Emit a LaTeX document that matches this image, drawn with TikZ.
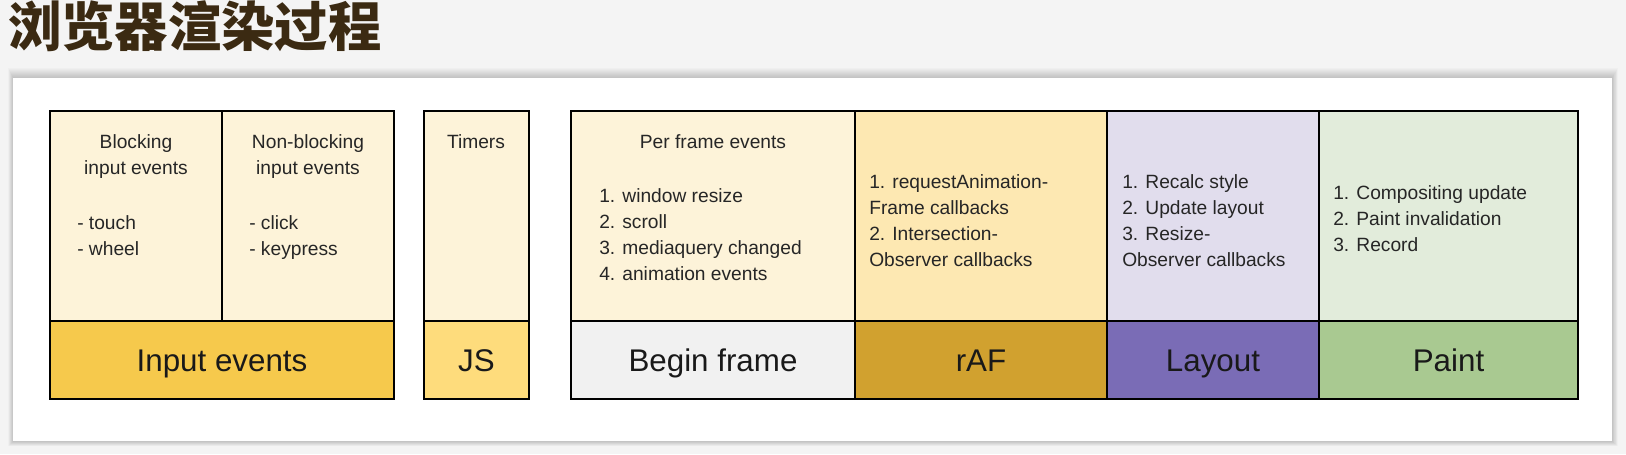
\documentclass[tikz,border=0pt]{standalone}
\usepackage{fontspec}
\setmainfont{Liberation Sans}
\newfontfamily\cjk{Noto Sans CJK SC}
\begin{document}
\begin{tikzpicture}[x=0.75pt,y=-0.75pt,
  cell/.style={draw=black,line width=1.6pt},
  body/.style={inner sep=0pt,align=left,anchor=north west,font=\fontsize{14.4}{19.5}\selectfont,text=black!85},
  bodyc/.style={body,align=center,anchor=north},
  big/.style={inner sep=0pt,anchor=base,font=\fontsize{23.5}{26}\selectfont,text=black!90}]
\definecolor{bg}{HTML}{F4F4F4}
\definecolor{cream}{HTML}{FDF3D9}
\definecolor{inev}{HTML}{F6C94C}
\definecolor{jsc}{HTML}{FEDC7C}
\definecolor{bfc}{HTML}{F1F1F1}
\definecolor{rafu}{HTML}{FDE8B2}
\definecolor{rafd}{HTML}{D1A12F}
\definecolor{layu}{HTML}{E1DDED}
\definecolor{layd}{HTML}{7A6CB6}
\definecolor{paiu}{HTML}{E2ECDB}
\definecolor{paid}{HTML}{A9C991}
\definecolor{titc}{HTML}{3B2A12}
\useasboundingbox (0,0) rectangle (1626,454);
\fill[bg] (0,0) rectangle (1626,454);
\foreach \i in {1,...,10}{\fill[black,opacity=0.02] (13-0.5*\i,78-\i) rectangle (1612+0.6*\i,441+0.5*\i);}
\fill[white] (13,78) rectangle (1612,441);
\node[inner sep=0pt,anchor=west,font=\cjk\bfseries\fontsize{40}{44}\selectfont,text=titc] (title) at (8,26) {浏览器渲染过程};
\draw[cell,fill=cream] (50,111) rectangle (222,321);
\draw[cell,fill=cream] (222,111) rectangle (394,321);
\draw[cell,fill=inev] (50,321) rectangle (394,399);
\draw[cell,fill=cream] (424,111) rectangle (529,321);
\draw[cell,fill=jsc] (424,321) rectangle (529,399);
\draw[cell,fill=cream] (571,111) rectangle (855,321);
\draw[cell,fill=bfc] (571,321) rectangle (855,399);
\draw[cell,fill=rafu] (855,111) rectangle (1107,321);
\draw[cell,fill=rafd] (855,321) rectangle (1107,399);
\draw[cell,fill=layu] (1107,111) rectangle (1319,321);
\draw[cell,fill=layd] (1107,321) rectangle (1319,399);
\draw[cell,fill=paiu] (1319,111) rectangle (1578,321);
\draw[cell,fill=paid] (1319,321) rectangle (1578,399);
\node[bodyc] (b1) at (136,134) {Blocking\\input events};
\node[body] (b2) at (77,215) {- touch\\- wheel};
\node[bodyc] (n1) at (308,134) {Non-blocking\\input events};
\node[body] (n2) at (249,215) {- click\\- keypress};
\node[bodyc] (tm) at (476,134) {Timers};
\node[bodyc] (pf) at (713,134) {Per frame events};
\node[body] (pl) at (599,188) {1. window resize\\2. scroll\\3. mediaquery changed\\4. animation events};
\node[body] (rl) at (869,174) {1. requestAnimation-\\Frame callbacks\\2. Intersection-\\Observer callbacks};
\node[body] (ll) at (1122,174) {1. Recalc style\\2. Update layout\\3. Resize-\\Observer callbacks};
\node[body] (al) at (1333,185) {1. Compositing update\\2. Paint invalidation\\3. Record};
\node[big] (ie) at (222,371) {Input events};
\node[big] (js) at (476.5,371) {JS};
\node[big] (bf) at (713,371) {Begin frame};
\node[big] (ra) at (981,371) {rAF};
\node[big] (la) at (1213,371) {Layout};
\node[big] (pa) at (1448.5,371) {Paint};
\end{tikzpicture}
\end{document}
